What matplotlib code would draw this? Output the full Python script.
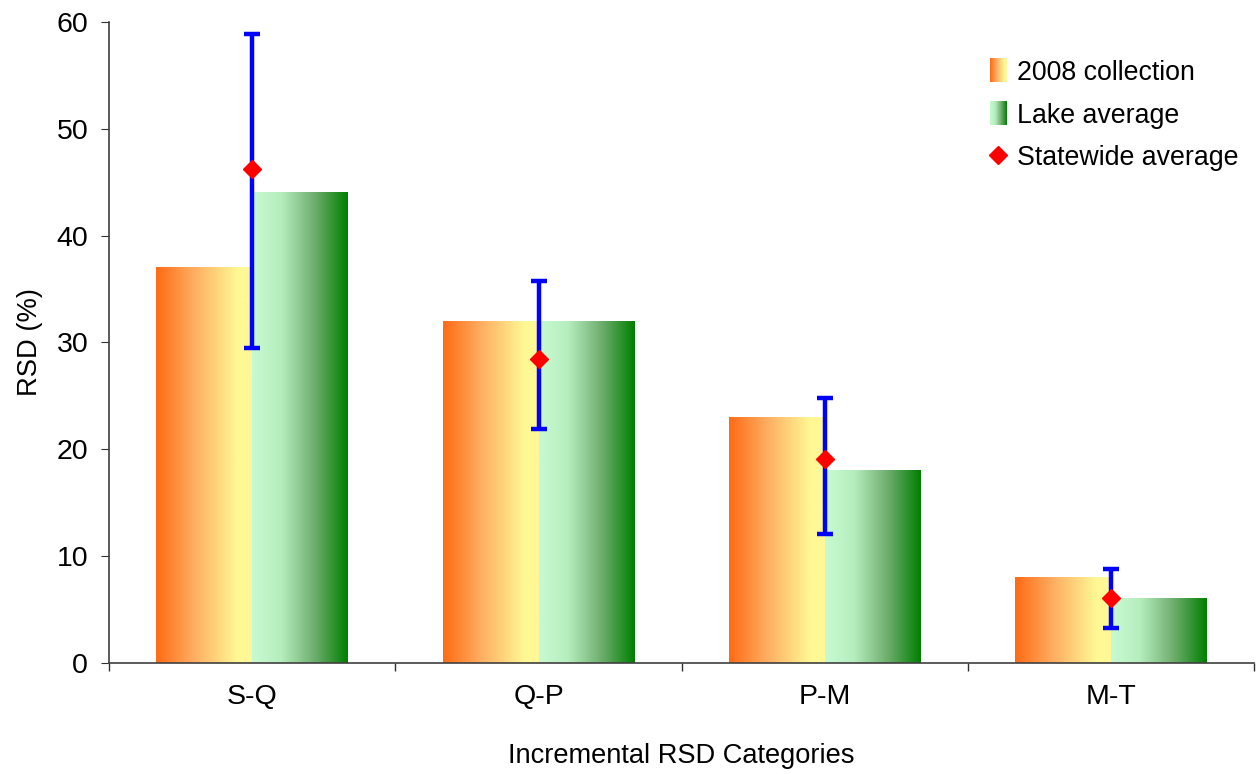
import numpy as np
import matplotlib
matplotlib.use("Agg")
import matplotlib.pyplot as plt
from matplotlib.colors import LinearSegmentedColormap
from matplotlib.legend_handler import HandlerBase
from matplotlib.image import BboxImage
from matplotlib.transforms import Bbox, TransformedBbox
from matplotlib.patches import Patch
from matplotlib.lines import Line2D

plt.rcParams['font.family'] = ['Liberation Sans', 'DejaVu Sans']

# data
categories = ['S-Q', 'Q-P', 'P-M', 'M-T']
collection_2008 = [37, 32, 23, 8]
lake_avg = [44, 32, 18, 6]
state_avg = [46.2, 28.5, 19.1, 6.1]
state_low = [29.5, 21.9, 12.1, 3.3]
state_high = [58.9, 35.8, 24.8, 8.8]

orange_cmap = LinearSegmentedColormap.from_list(
    'orng', [(0, '#FF6A14'), (0.4, '#FFAE62'), (0.85, '#FFF894'), (1, '#FFF894')])
green_cmap = LinearSegmentedColormap.from_list(
    'grn', [(0, '#C8FAD2'), (0.3, '#B6EEBE'), (0.65, '#6FAE6F'), (1, '#007F00')])

grad = np.linspace(0, 1, 256).reshape(1, -1)


class GradientHandler(HandlerBase):
    def __init__(self, cmap):
        super().__init__()
        self.cmap = cmap

    def create_artists(self, legend, orig_handle, xdescent, ydescent,
                       width, height, fontsize, trans):
        bb = Bbox.from_bounds(-xdescent, -ydescent, width, height)
        img = BboxImage(TransformedBbox(bb, trans), cmap=self.cmap,
                        interpolation='bilinear')
        img.set_data(grad)
        return [img]


fig = plt.figure(figsize=(12.57, 7.74), dpi=100)
ax = fig.add_axes([0.0867, 0.1434, 0.9113, 0.8282])

x = np.arange(len(categories))
w = 0.335

bars1 = ax.bar(x - w / 2, collection_2008, w, color='none', edgecolor='none')
bars2 = ax.bar(x + w / 2, lake_avg, w, color='none', edgecolor='none')

for bars, cmap in [(bars1, orange_cmap), (bars2, green_cmap)]:
    for b in bars:
        x0, y0 = b.get_x(), b.get_y()
        ax.imshow(grad, cmap=cmap, aspect='auto', interpolation='bilinear',
                  extent=[x0, x0 + b.get_width(), y0, y0 + b.get_height()],
                  zorder=2)

yerr = [np.array(state_avg) - np.array(state_low),
        np.array(state_high) - np.array(state_avg)]
ax.errorbar(x, state_avg, yerr=yerr, fmt='none', ecolor='#0000FF',
            elinewidth=3.2, capsize=6, capthick=3.2, zorder=3)
ax.plot(x, state_avg, linestyle='none', marker='D', color='#FF0000',
        markersize=9, zorder=4)

ax.set_xlim(-0.5, len(categories) - 0.5)
ax.set_ylim(0, 60)
ax.set_yticks(np.arange(0, 61, 10))
ax.set_xticks(np.arange(-0.5, len(categories), 1.0))
ax.set_xticklabels([])
ax.set_xticks(x, minor=True)
ax.set_xticklabels(categories, minor=True)
ax.tick_params(axis='x', which='major', direction='out', length=6,
               color='#303030', width=1)
ax.tick_params(axis='x', which='minor', length=0, pad=15, labelsize=20.5)
ax.tick_params(axis='y', direction='out', length=6, color='#303030',
               labelsize=20.5, pad=9)

for s in ['top', 'right']:
    ax.spines[s].set_visible(False)
for s in ['left', 'bottom']:
    ax.spines[s].set_color('#404040')
    ax.spines[s].set_linewidth(1.2)

ax.set_xlabel('Incremental RSD Categories', fontsize=19.6, labelpad=24)
ax.set_ylabel('RSD (%)', fontsize=19.7, labelpad=10)

h1 = Patch(label='2008 collection')
h2 = Patch(label='Lake average')
h3 = Line2D([], [], linestyle='none', marker='D', color='#FF0000',
            markersize=9, label='Statewide average')
ax.legend(handles=[h1, h2, h3], loc='upper right', frameon=False,
          fontsize=19.3, handlelength=0.6, handleheight=0.95, handletextpad=0.4,
          labelspacing=0.6, bbox_to_anchor=(1.007, 0.98),
          handler_map={h1: GradientHandler(orange_cmap),
                       h2: GradientHandler(green_cmap)})

fig.savefig('out.png', dpi=100)
